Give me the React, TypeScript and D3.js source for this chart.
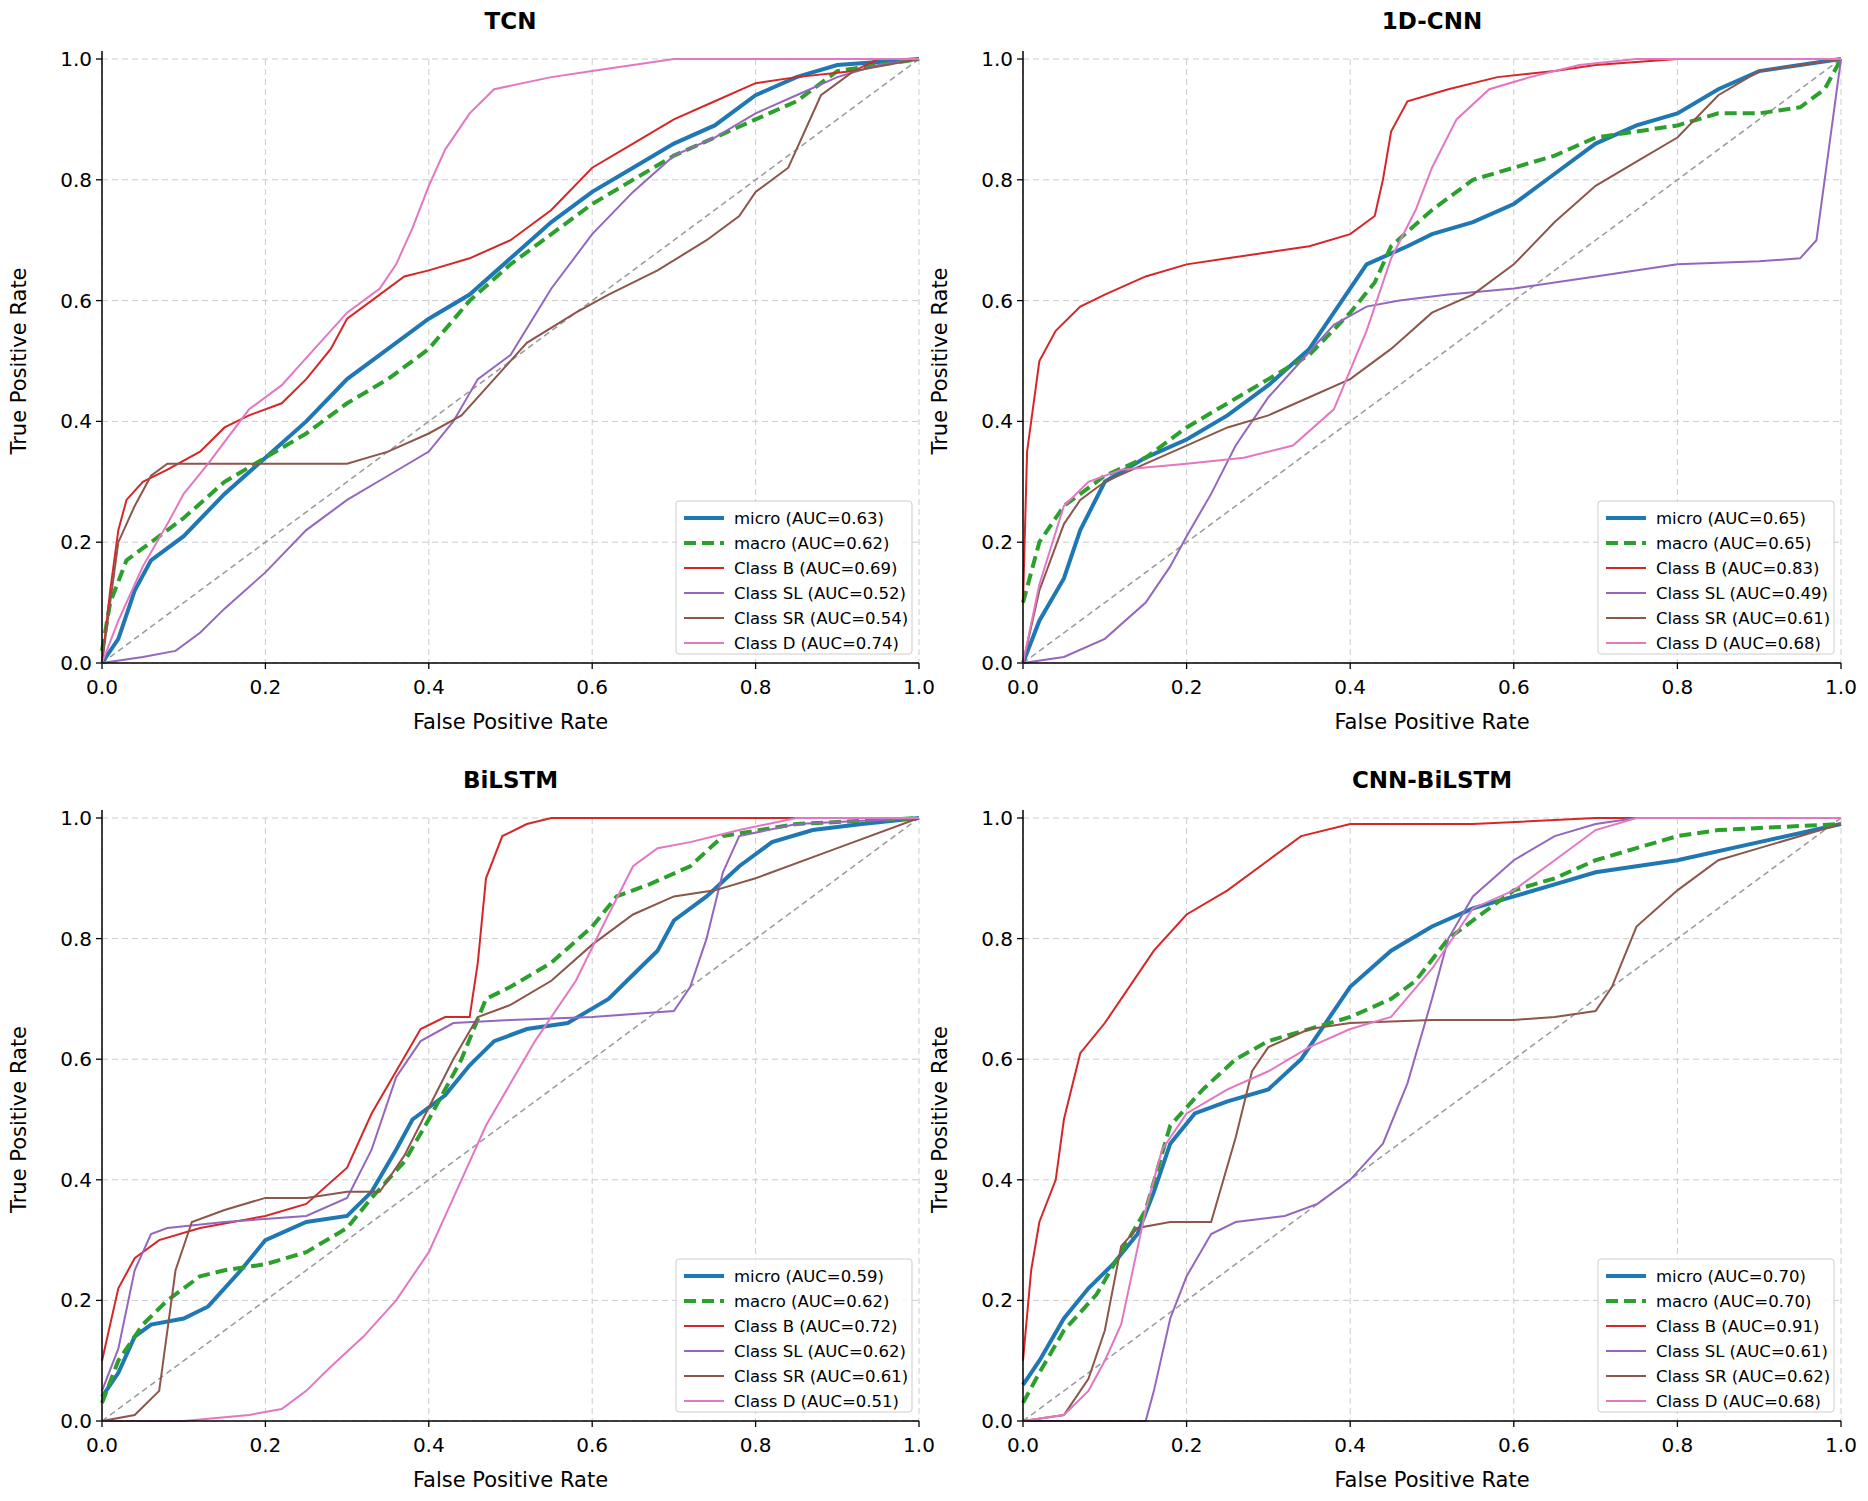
import React from "react";
import * as d3 from "d3";

type Pt = [number, number];

const titles = ["TCN", "1D-CNN", "BiLSTM", "CNN-BiLSTM"];
const seriesNames = ["micro", "macro", "Class B", "Class SL", "Class SR", "Class D"];
const seriesColors = ["#1f77b4", "#2ca02c", "#d62728", "#9467bd", "#8c564b", "#e377c2"];
const ticks = [0, 0.2, 0.4, 0.6, 0.8, 1.0];

const aucTCN = [0.63, 0.62, 0.69, 0.52, 0.54, 0.74];
const auc1D = [0.65, 0.65, 0.83, 0.49, 0.61, 0.68];
const aucBi = [0.59, 0.62, 0.72, 0.62, 0.61, 0.51];
const aucCB = [0.7, 0.7, 0.91, 0.61, 0.62, 0.68];

const tcnMicro: Pt[] = [[0,0],[0.02,0.04],[0.04,0.12],[0.06,0.17],[0.1,0.21],[0.15,0.28],[0.2,0.34],[0.25,0.4],[0.3,0.47],[0.35,0.52],[0.4,0.57],[0.45,0.61],[0.5,0.67],[0.55,0.73],[0.6,0.78],[0.65,0.82],[0.7,0.86],[0.75,0.89],[0.8,0.94],[0.85,0.97],[0.9,0.99],[1,1]];
const tcnMacro: Pt[] = [[0,0.02],[0.01,0.1],[0.03,0.17],[0.06,0.2],[0.1,0.24],[0.15,0.3],[0.2,0.34],[0.25,0.38],[0.3,0.43],[0.35,0.47],[0.4,0.52],[0.45,0.6],[0.5,0.66],[0.55,0.71],[0.6,0.76],[0.65,0.8],[0.7,0.84],[0.75,0.87],[0.8,0.9],[0.85,0.93],[0.9,0.98],[1,1]];
const tcnB: Pt[] = [[0,0],[0.01,0.12],[0.02,0.22],[0.03,0.27],[0.05,0.3],[0.08,0.32],[0.12,0.35],[0.15,0.39],[0.18,0.41],[0.22,0.43],[0.25,0.47],[0.28,0.52],[0.3,0.57],[0.33,0.6],[0.37,0.64],[0.4,0.65],[0.45,0.67],[0.5,0.7],[0.55,0.75],[0.6,0.82],[0.65,0.86],[0.7,0.9],[0.75,0.93],[0.8,0.96],[0.85,0.97],[0.92,0.98],[0.95,1],[1,1]];
const tcnSL: Pt[] = [[0,0],[0.05,0.01],[0.09,0.02],[0.12,0.05],[0.15,0.09],[0.2,0.15],[0.25,0.22],[0.3,0.27],[0.35,0.31],[0.4,0.35],[0.43,0.4],[0.46,0.47],[0.5,0.51],[0.55,0.62],[0.6,0.71],[0.65,0.78],[0.7,0.84],[0.75,0.87],[0.8,0.91],[0.85,0.94],[0.9,0.97],[0.95,0.99],[1,1]];
const tcnSR: Pt[] = [[0,0],[0.02,0.2],[0.04,0.26],[0.06,0.31],[0.08,0.33],[0.15,0.33],[0.3,0.33],[0.35,0.35],[0.4,0.38],[0.44,0.41],[0.48,0.47],[0.52,0.53],[0.58,0.58],[0.62,0.61],[0.68,0.65],[0.74,0.7],[0.78,0.74],[0.8,0.78],[0.84,0.82],[0.88,0.94],[0.92,0.98],[1,1]];
const tcnD: Pt[] = [[0,0],[0.02,0.07],[0.05,0.16],[0.08,0.23],[0.1,0.28],[0.13,0.33],[0.18,0.42],[0.22,0.46],[0.26,0.52],[0.3,0.58],[0.34,0.62],[0.36,0.66],[0.38,0.72],[0.4,0.79],[0.42,0.85],[0.45,0.91],[0.48,0.95],[0.55,0.97],[0.6,0.98],[0.7,1],[1,1]];

const cnnMicro: Pt[] = [[0,0],[0.02,0.07],[0.05,0.14],[0.07,0.22],[0.1,0.3],[0.15,0.34],[0.2,0.37],[0.25,0.41],[0.3,0.46],[0.35,0.52],[0.38,0.58],[0.42,0.66],[0.47,0.69],[0.5,0.71],[0.55,0.73],[0.6,0.76],[0.65,0.81],[0.7,0.86],[0.75,0.89],[0.8,0.91],[0.85,0.95],[0.9,0.98],[0.95,0.99],[1,1]];
const cnnMacro: Pt[] = [[0,0.1],[0.02,0.2],[0.05,0.26],[0.1,0.31],[0.15,0.34],[0.2,0.39],[0.25,0.43],[0.3,0.47],[0.35,0.51],[0.4,0.58],[0.43,0.63],[0.45,0.69],[0.5,0.75],[0.55,0.8],[0.6,0.82],[0.65,0.84],[0.7,0.87],[0.75,0.88],[0.8,0.89],[0.85,0.91],[0.9,0.91],[0.95,0.92],[0.98,0.95],[1,1]];
const cnnB: Pt[] = [[0,0.1],[0.005,0.35],[0.02,0.5],[0.04,0.55],[0.07,0.59],[0.1,0.61],[0.15,0.64],[0.2,0.66],[0.25,0.67],[0.3,0.68],[0.35,0.69],[0.4,0.71],[0.43,0.74],[0.44,0.8],[0.45,0.88],[0.47,0.93],[0.52,0.95],[0.58,0.97],[0.65,0.98],[0.7,0.99],[0.8,1],[1,1]];
const cnnSL: Pt[] = [[0,0],[0.05,0.01],[0.1,0.04],[0.15,0.1],[0.18,0.16],[0.2,0.21],[0.23,0.28],[0.26,0.36],[0.3,0.44],[0.34,0.5],[0.38,0.56],[0.42,0.59],[0.46,0.6],[0.52,0.61],[0.6,0.62],[0.7,0.64],[0.8,0.66],[0.9,0.665],[0.95,0.67],[0.97,0.7],[0.98,0.8],[0.99,0.9],[1,1]];
const cnnSR: Pt[] = [[0,0],[0.02,0.12],[0.05,0.23],[0.07,0.27],[0.1,0.3],[0.15,0.33],[0.2,0.36],[0.25,0.39],[0.3,0.41],[0.35,0.44],[0.4,0.47],[0.45,0.52],[0.5,0.58],[0.55,0.61],[0.6,0.66],[0.65,0.73],[0.7,0.79],[0.75,0.83],[0.8,0.87],[0.85,0.94],[0.9,0.98],[1,1]];
const cnnD: Pt[] = [[0,0],[0.02,0.13],[0.05,0.26],[0.08,0.3],[0.12,0.32],[0.2,0.33],[0.27,0.34],[0.33,0.36],[0.38,0.42],[0.42,0.55],[0.45,0.67],[0.48,0.75],[0.5,0.82],[0.53,0.9],[0.57,0.95],[0.62,0.97],[0.68,0.99],[0.75,1],[1,1]];

const biMicro: Pt[] = [[0,0.04],[0.02,0.08],[0.04,0.14],[0.06,0.16],[0.1,0.17],[0.13,0.19],[0.17,0.25],[0.2,0.3],[0.25,0.33],[0.3,0.34],[0.33,0.38],[0.36,0.45],[0.38,0.5],[0.42,0.54],[0.45,0.59],[0.48,0.63],[0.52,0.65],[0.57,0.66],[0.62,0.7],[0.65,0.74],[0.68,0.78],[0.7,0.83],[0.74,0.87],[0.78,0.92],[0.82,0.96],[0.87,0.98],[0.93,0.99],[1,1]];
const biMacro: Pt[] = [[0,0.03],[0.02,0.1],[0.05,0.16],[0.08,0.2],[0.12,0.24],[0.15,0.25],[0.2,0.26],[0.25,0.28],[0.3,0.32],[0.33,0.37],[0.37,0.43],[0.4,0.5],[0.44,0.6],[0.47,0.7],[0.5,0.72],[0.55,0.76],[0.6,0.82],[0.63,0.87],[0.67,0.89],[0.72,0.92],[0.76,0.97],[0.85,0.99],[1,1]];
const biB: Pt[] = [[0,0.1],[0.02,0.22],[0.04,0.27],[0.07,0.3],[0.12,0.32],[0.2,0.34],[0.25,0.36],[0.3,0.42],[0.33,0.51],[0.36,0.58],[0.39,0.65],[0.42,0.67],[0.45,0.67],[0.46,0.76],[0.47,0.9],[0.49,0.97],[0.52,0.99],[0.55,1],[1,1]];
const biSL: Pt[] = [[0,0.05],[0.02,0.12],[0.04,0.25],[0.06,0.31],[0.08,0.32],[0.15,0.33],[0.25,0.34],[0.3,0.37],[0.33,0.45],[0.36,0.57],[0.39,0.63],[0.43,0.66],[0.5,0.665],[0.6,0.67],[0.7,0.68],[0.72,0.72],[0.74,0.8],[0.76,0.91],[0.78,0.97],[0.85,0.99],[1,1]];
const biSR: Pt[] = [[0,0],[0.04,0.01],[0.07,0.05],[0.08,0.15],[0.09,0.25],[0.11,0.33],[0.15,0.35],[0.2,0.37],[0.25,0.37],[0.3,0.38],[0.34,0.38],[0.37,0.44],[0.4,0.52],[0.43,0.6],[0.46,0.67],[0.5,0.69],[0.55,0.73],[0.6,0.79],[0.65,0.84],[0.7,0.87],[0.75,0.88],[0.8,0.9],[0.9,0.95],[1,1]];
const biD: Pt[] = [[0,0],[0.1,0],[0.18,0.01],[0.22,0.02],[0.25,0.05],[0.28,0.09],[0.32,0.14],[0.36,0.2],[0.4,0.28],[0.44,0.4],[0.47,0.49],[0.5,0.56],[0.53,0.63],[0.58,0.73],[0.62,0.84],[0.65,0.92],[0.68,0.95],[0.72,0.96],[0.78,0.98],[0.85,1],[1,1]];

const cbMicro: Pt[] = [[0,0.06],[0.02,0.1],[0.05,0.17],[0.08,0.22],[0.11,0.26],[0.14,0.31],[0.16,0.38],[0.18,0.46],[0.21,0.51],[0.25,0.53],[0.3,0.55],[0.34,0.6],[0.37,0.66],[0.4,0.72],[0.45,0.78],[0.5,0.82],[0.55,0.85],[0.6,0.87],[0.65,0.89],[0.7,0.91],[0.75,0.92],[0.8,0.93],[0.9,0.96],[1,0.99]];
const cbMacro: Pt[] = [[0,0.03],[0.02,0.08],[0.05,0.15],[0.09,0.21],[0.12,0.28],[0.15,0.35],[0.18,0.49],[0.22,0.55],[0.26,0.6],[0.3,0.63],[0.35,0.65],[0.4,0.67],[0.45,0.7],[0.48,0.73],[0.52,0.8],[0.56,0.84],[0.6,0.88],[0.65,0.9],[0.7,0.93],[0.75,0.95],[0.8,0.97],[0.85,0.98],[1,0.99]];
const cbB: Pt[] = [[0,0.1],[0.01,0.25],[0.02,0.33],[0.04,0.4],[0.05,0.5],[0.07,0.61],[0.1,0.66],[0.13,0.72],[0.16,0.78],[0.2,0.84],[0.25,0.88],[0.3,0.93],[0.34,0.97],[0.4,0.99],[0.55,0.99],[0.7,1],[1,1]];
const cbSL: Pt[] = [[0,0],[0.15,0],[0.16,0.05],[0.18,0.17],[0.2,0.24],[0.23,0.31],[0.26,0.33],[0.32,0.34],[0.36,0.36],[0.4,0.4],[0.44,0.46],[0.47,0.56],[0.5,0.7],[0.52,0.8],[0.55,0.87],[0.6,0.93],[0.65,0.97],[0.7,0.99],[0.75,1],[1,1]];
const cbSR: Pt[] = [[0,0],[0.05,0.01],[0.08,0.07],[0.1,0.15],[0.12,0.29],[0.14,0.32],[0.18,0.33],[0.23,0.33],[0.26,0.47],[0.28,0.58],[0.3,0.62],[0.35,0.65],[0.4,0.66],[0.5,0.665],[0.6,0.665],[0.65,0.67],[0.7,0.68],[0.72,0.72],[0.75,0.82],[0.8,0.88],[0.85,0.93],[0.9,0.95],[1,0.99]];
const cbD: Pt[] = [[0,0],[0.05,0.01],[0.08,0.05],[0.1,0.1],[0.12,0.16],[0.15,0.35],[0.17,0.45],[0.2,0.51],[0.25,0.55],[0.3,0.58],[0.35,0.62],[0.4,0.65],[0.45,0.67],[0.5,0.75],[0.55,0.85],[0.6,0.88],[0.65,0.93],[0.7,0.98],[0.75,1],[1,1]];

const panelCurves: Pt[][][] = [
  [tcnMicro, tcnMacro, tcnB, tcnSL, tcnSR, tcnD],
  [cnnMicro, cnnMacro, cnnB, cnnSL, cnnSR, cnnD],
  [biMicro, biMacro, biB, biSL, biSR, biD],
  [cbMicro, cbMacro, cbB, cbSL, cbSR, cbD],
];
const panelAuc = [aucTCN, auc1D, aucBi, aucCB];

// pixel boxes of each plot area
const cols = [[94, 911], [1015, 1833]];
const rows = [[51, 655], [810, 1413]];

const FONT = "'DejaVu Sans', sans-serif";

function Panel({ idx }: { idx: number }) {
  const [x0, x1] = cols[idx % 2];
  const [y0, y1] = rows[Math.floor(idx / 2)];
  const x = d3.scaleLinear().domain([0, 1]).range([x0, x1]);
  const y = d3.scaleLinear().domain([0, 1]).range([y1, y0]);
  const line = d3.line<Pt>().x((d) => x(d[0])).y((d) => y(d[1]));
  const curves = panelCurves[idx];
  const lx = x1 - 243;
  const ly = y1 - 162;
  return (
    <g>
      <text x={(x0 + x1) / 2} y={y0 - 30} textAnchor="middle" fontSize={23} fontWeight="bold" fontFamily={FONT}>
        {titles[idx]}
      </text>
      {ticks.map((t) => (
        <g key={t}>
          <line x1={x(t)} x2={x(t)} y1={y0} y2={y1} stroke="#ccc" strokeDasharray="6 4" strokeWidth={1} />
          <line x1={x0} x2={x1} y1={y(t)} y2={y(t)} stroke="#ccc" strokeDasharray="6 4" strokeWidth={1} />
          <line x1={x(t)} x2={x(t)} y1={y1} y2={y1 + 6} stroke="#000" strokeWidth={1.3} />
          <line x1={x0 - 6} x2={x0} y1={y(t)} y2={y(t)} stroke="#000" strokeWidth={1.3} />
          <text x={x(t)} y={y1 + 31} textAnchor="middle" fontSize={20} fontFamily={FONT}>{t.toFixed(1)}</text>
          <text x={x0 - 10} y={y(t) + 7} textAnchor="end" fontSize={20} fontFamily={FONT}>{t.toFixed(1)}</text>
        </g>
      ))}
      <line x1={x(0)} y1={y(0)} x2={x(1)} y2={y(1)} stroke="#999" strokeDasharray="6 4" strokeWidth={1.5} />
      {curves.map((c, i) => (
        <path
          key={i}
          d={line(c) ?? ""}
          fill="none"
          stroke={seriesColors[i]}
          strokeWidth={i < 2 ? 4 : 2}
          strokeDasharray={i === 1 ? "12 6" : undefined}
        />
      ))}
      <line x1={x0} x2={x0} y1={y0 - 8} y2={y1} stroke="#000" strokeWidth={1.5} />
      <line x1={x0} x2={x1} y1={y1} y2={y1} stroke="#000" strokeWidth={1.5} />
      <text x={(x0 + x1) / 2} y={y1 + 66} textAnchor="middle" fontSize={21} fontFamily={FONT}>False Positive Rate</text>
      <text transform={`translate(${x0 - 76},${(y0 + y1) / 2}) rotate(-90)`} textAnchor="middle" fontSize={21} fontFamily={FONT}>
        True Positive Rate
      </text>
      <rect x={lx} y={ly} width={236} height={153} fill="#fff" fillOpacity={0.85} stroke="#ccc" rx={3} />
      {seriesNames.map((n, i) => (
        <g key={n}>
          <line
            x1={lx + 8} x2={lx + 48} y1={ly + 17 + i * 25} y2={ly + 17 + i * 25}
            stroke={seriesColors[i]}
            strokeWidth={i < 2 ? 4 : 2}
            strokeDasharray={i === 1 ? "12 6" : undefined}
          />
          <text x={lx + 58} y={ly + 23 + i * 25} fontSize={16.5} fontFamily={FONT}>
            {`${n} (AUC=${panelAuc[idx][i].toFixed(2)})`}
          </text>
        </g>
      ))}
    </g>
  );
}

export default function App() {
  return (
    <svg width={1868} height={1501} style={{ display: "block", background: "#fff" }}>
      {[0, 1, 2, 3].map((i) => <Panel key={i} idx={i} />)}
    </svg>
  );
}
